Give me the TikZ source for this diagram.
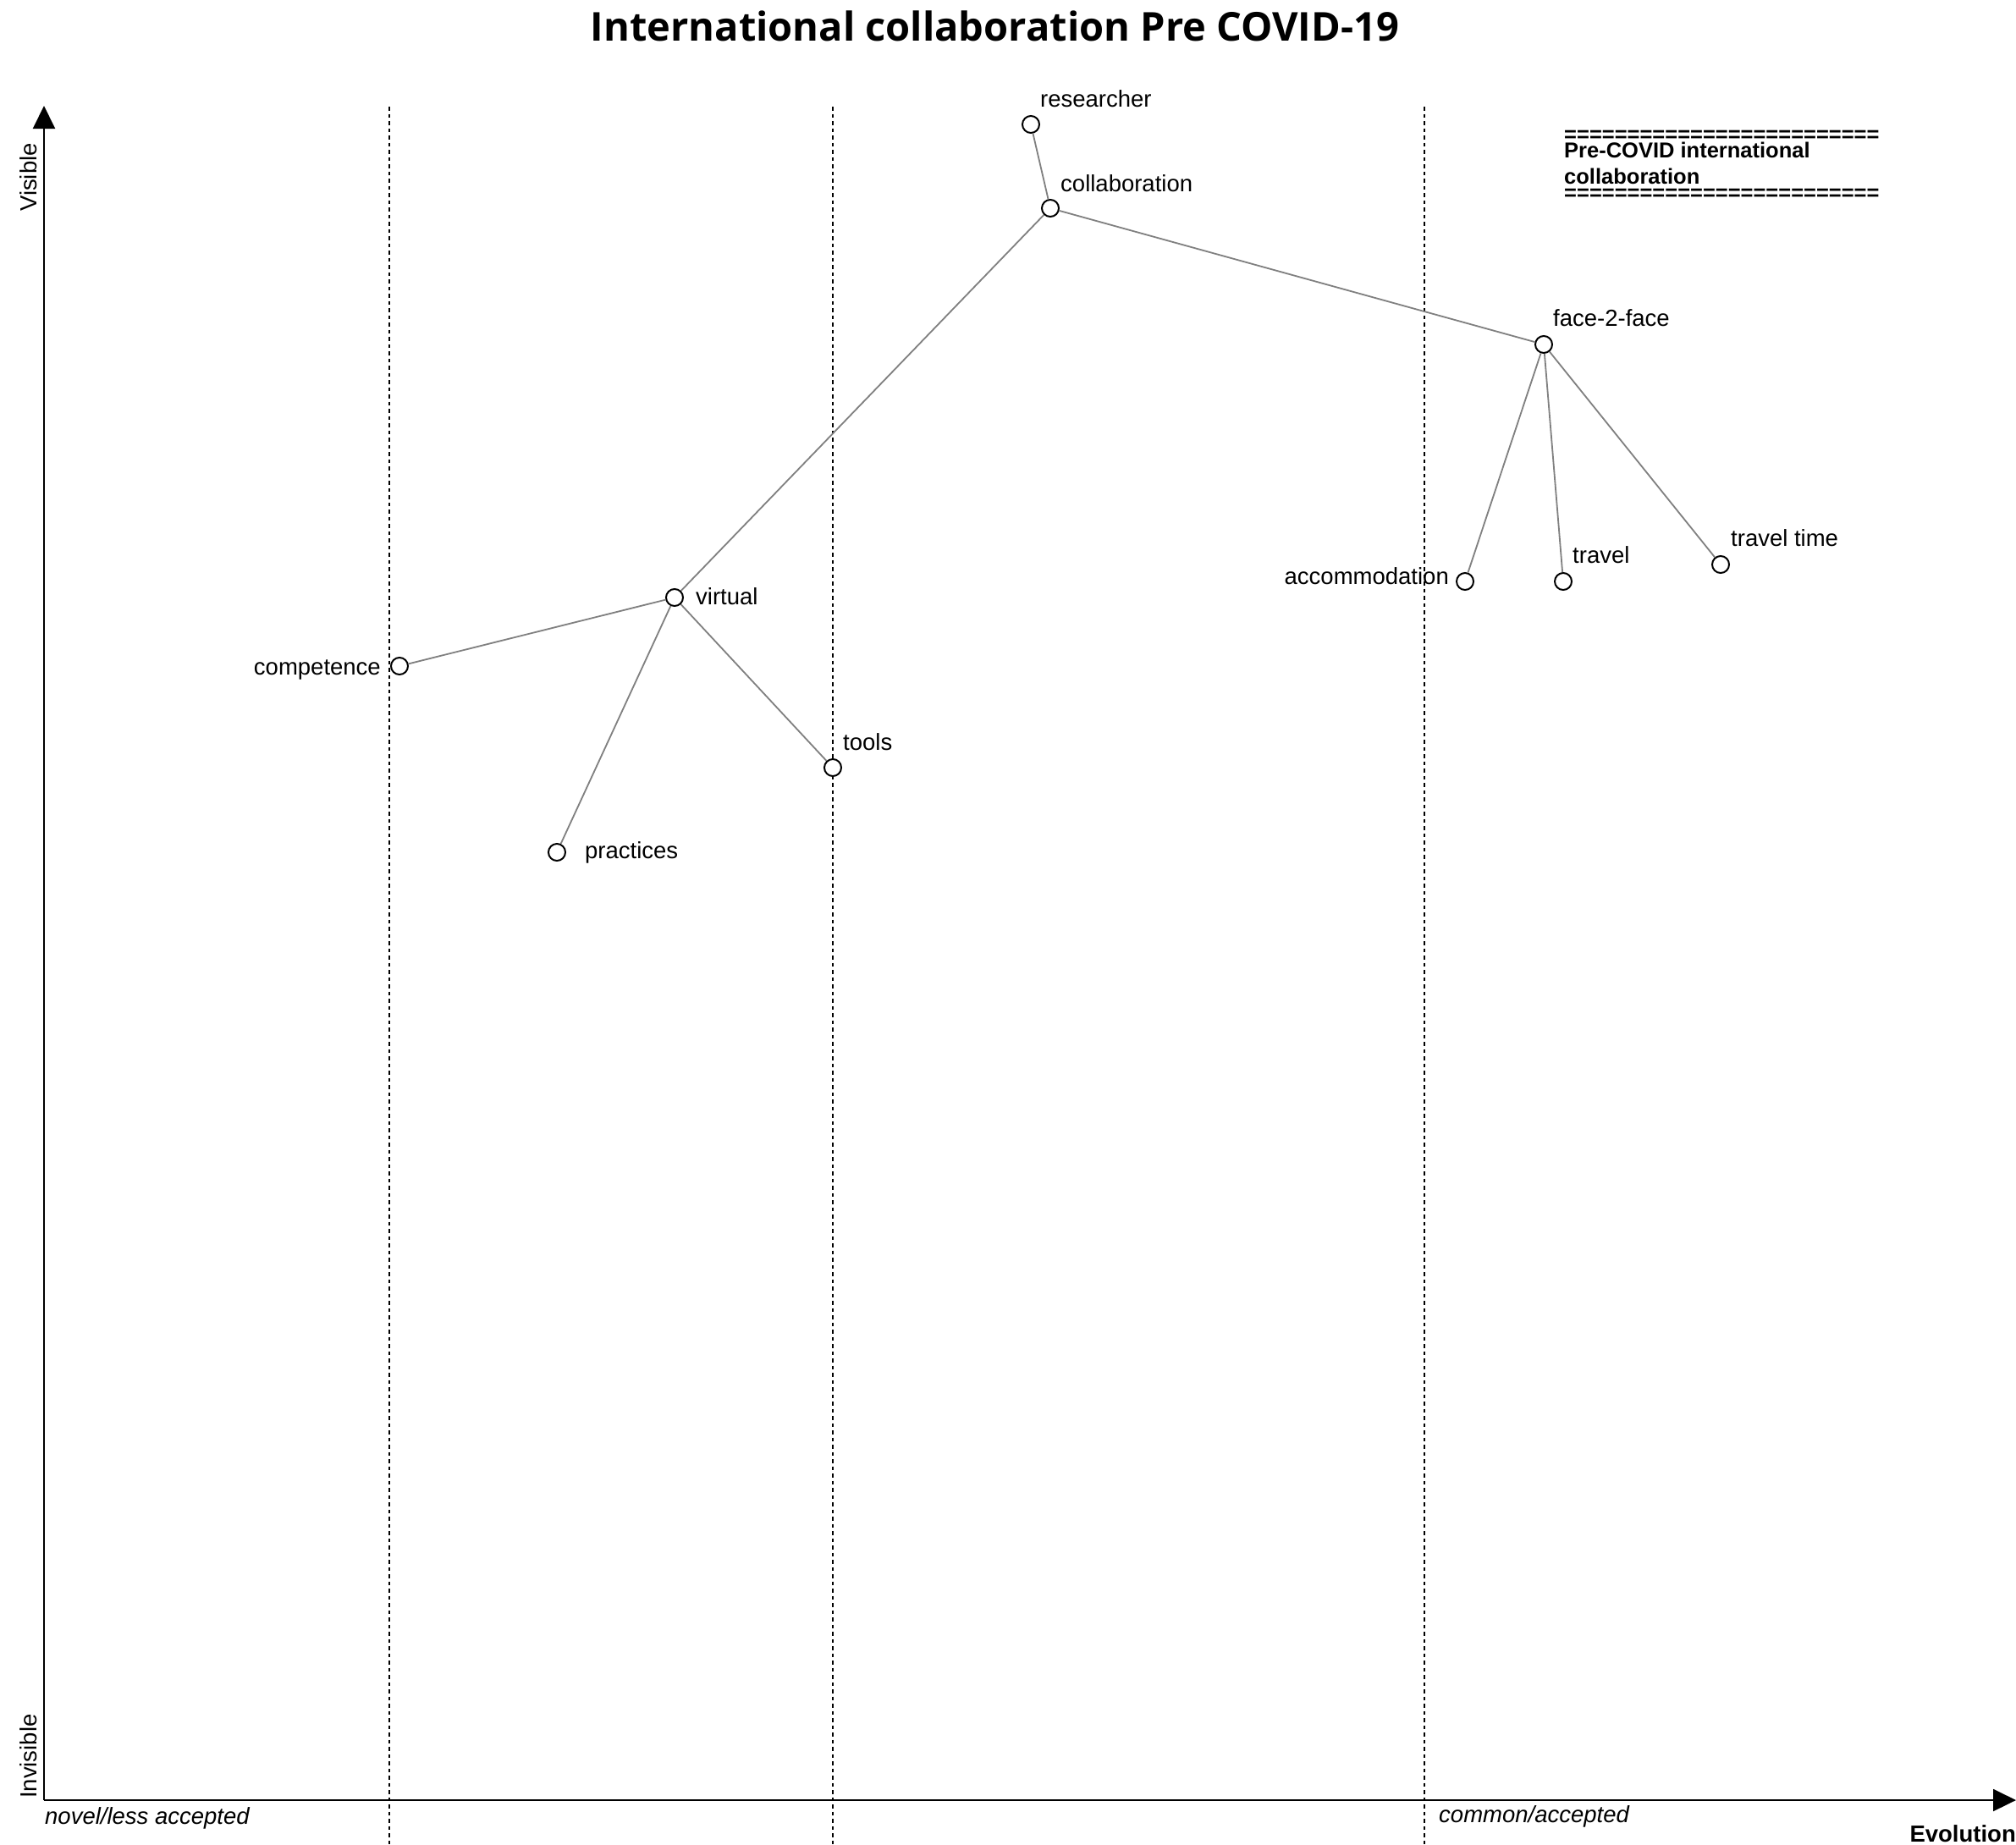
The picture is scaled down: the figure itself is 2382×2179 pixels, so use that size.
\documentclass[tikz,border=0pt]{standalone}
\usepackage{fontspec}
\setmainfont{Liberation Sans}
\newfontfamily\titlefont{Open Sans}
\usetikzlibrary{arrows.meta}
\begin{document}
\begin{tikzpicture}[x=1pt,y=-1pt,
  pt/.style={circle,draw=black,fill=white,line width=2pt,minimum size=20pt,inner sep=0pt},
  lbl/.style={inner sep=0pt,font=\fontsize{27.5}{33}\selectfont},
  leg/.style={inner sep=0pt,anchor=base west,font=\bfseries\fontsize{25.5}{30}\selectfont},
  edge/.style={draw=gray,line width=1.8pt},
  gridline/.style={draw=black,line width=2pt,dash pattern=on 4.5pt off 4pt},
  axis/.style={draw=black,line width=2pt,-{Triangle[length=27pt,width=26pt]}}]
\useasboundingbox (0,0) rectangle (2382,2179);
\fill[white] (0,0) rectangle (2382,2179);

% title
\node[anchor=base,inner sep=0pt,font=\titlefont\bfseries\fontsize{47}{56}\selectfont] (title) at (1175.5,48) {International collaboration Pre COVID-19};

% evolution grid lines
\coordinate (g1t) at (460,126);  \coordinate (g1b) at (460,2179);
\coordinate (g2t) at (984,126);  \coordinate (g2b) at (984,2179);
\coordinate (g3t) at (1683,126); \coordinate (g3b) at (1683,2179);
\draw[gridline] (g1t) -- (g1b);
\draw[gridline] (g2t) -- (g2b);
\draw[gridline] (g3t) -- (g3b);

% axes
\coordinate (o) at (52,2127);
\coordinate (ytip) at (52,125);
\coordinate (xtip) at (2382,2127);
\draw[axis] (o) -- (ytip);
\draw[axis] (o) -- (xtip);

\node[lbl,rotate=90,anchor=base west] (visible) at (43,250) {Visible};
\node[lbl,rotate=90,anchor=base west] (invisible) at (43,2125) {Invisible};
\node[lbl,anchor=base west,font=\itshape\fontsize{27.5}{33}\selectfont] (novel) at (53,2155) {novel/less accepted};
\node[lbl,anchor=base west,font=\itshape\fontsize{27.5}{33}\selectfont] (common) at (1700,2153) {common/accepted};
\node[lbl,anchor=base east,font=\bfseries\fontsize{27.5}{33}\selectfont] (evolution) at (2382,2176) {Evolution};

% legend
\node[leg] (legend) at (1848,167.5) {\begin{tabular}[t]{@{}l@{}}=========================\\[-11pt]
Pre-COVID international\\[0.5pt]
collaboration\\[-10.5pt]
=========================\end{tabular}};

% components
\node[pt] (researcher) at (1218,147) {};
\node[pt] (collab) at (1241,246) {};
\node[pt] (f2f) at (1824,407) {};
\node[pt] (accom) at (1731,687) {};
\node[pt] (travel) at (1847,687) {};
\node[pt] (ttime) at (2033,667) {};
\node[pt] (virtual) at (797,706) {};
\node[pt] (compet) at (472,787) {};
\node[pt] (tools) at (984,907) {};
\node[pt] (practices) at (658,1007) {};

% links
\draw[edge] (researcher) -- (collab);
\draw[edge] (collab) -- (f2f);
\draw[edge] (collab) -- (virtual);
\draw[edge] (f2f) -- (accom);
\draw[edge] (f2f) -- (travel);
\draw[edge] (f2f) -- (ttime);
\draw[edge] (virtual) -- (compet);
\draw[edge] (virtual) -- (tools);
\draw[edge] (virtual) -- (practices);

% labels
\node[lbl,anchor=base west] (lresearcher) at (1229,126) {researcher};
\node[lbl,anchor=base west] (lcollab) at (1253,226) {collaboration};
\node[lbl,anchor=base west] (lf2f) at (1835,385) {face-2-face};
\node[lbl,anchor=base east] (laccom) at (1712,690) {accommodation};
\node[lbl,anchor=base west] (ltravel) at (1858,665) {travel};
\node[lbl,anchor=base west] (lttime) at (2045,645) {travel time};
\node[lbl,anchor=base west] (lvirtual) at (822,714) {virtual};
\node[lbl,anchor=base east] (lcompet) at (450,797) {competence};
\node[lbl,anchor=base west] (ltools) at (996,886) {tools};
\node[lbl,anchor=base west] (lpractices) at (691,1014) {practices};
\end{tikzpicture}
\end{document}
